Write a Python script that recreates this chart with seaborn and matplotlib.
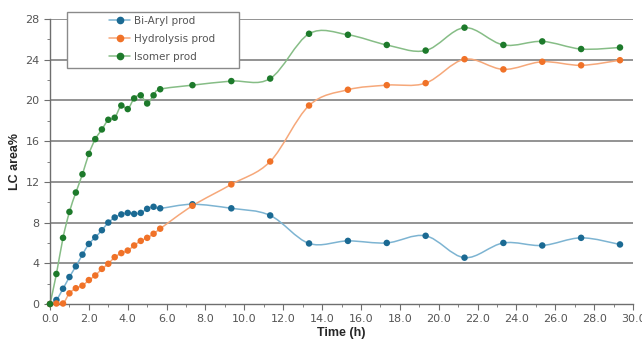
import numpy as np
import pandas as pd
import matplotlib
matplotlib.use("Agg")
import matplotlib.pyplot as plt
import seaborn as sns
from matplotlib.path import Path
from matplotlib.patches import PathPatch, Rectangle
from matplotlib.lines import Line2D
from matplotlib.ticker import MultipleLocator

# time points (h)
time_h = [0, 0.33, 0.67, 1.0, 1.33, 1.67, 2.0, 2.33, 2.67, 3.0, 3.33, 3.67, 4.0,
          4.33, 4.67, 5.0, 5.33, 5.67, 7.33, 9.33, 11.33, 13.33, 15.33, 17.33,
          19.33, 21.33, 23.33, 25.33, 27.33, 29.33]

biaryl = [0, 0.4, 1.5, 2.65, 3.7, 4.85, 5.9, 6.55, 7.25, 8.0, 8.5, 8.8, 8.95,
          8.85, 8.95, 9.35, 9.55, 9.4, 9.8, 9.4, 8.7, 5.95, 6.2, 6.0,
          6.7, 4.55, 6.0, 5.75, 6.5, 5.85]

hydrolysis = [0, 0.05, 0.05, 1.05, 1.55, 1.8, 2.35, 2.8, 3.45, 3.95, 4.6, 5.0, 5.25,
              5.75, 6.2, 6.5, 6.9, 7.4, 9.65, 11.75, 14.0, 19.5, 21.05, 21.5,
              21.7, 24.05, 23.05, 23.8, 23.45, 23.95]

isomer = [0, 2.95, 6.5, 9.05, 10.95, 12.75, 14.75, 16.2, 17.15, 18.1, 18.3, 19.5, 19.15,
          20.2, 20.5, 19.7, 20.5, 21.1, 21.5, 21.9, 22.15, 26.55, 26.45, 25.45,
          24.9, 27.15, 25.45, 25.8, 25.05, 25.2]

series_names = ["Bi-Aryl prod", "Hydrolysis prod", "Isomer prod"]
marker_colors = ["#1b6a93", "#f07228", "#1d7a2b"]
line_colors = ["#7db4d2", "#f6a87a", "#86bd86"]

df = pd.DataFrame({"time": time_h * 3,
                   "value": biaryl + hydrolysis + isomer,
                   "series": np.repeat(series_names, len(time_h))})


def smooth_path(xs, ys):
    # Excel-like smoothed line: cubic Bezier through the points
    pts = np.column_stack([xs, ys]).astype(float)
    verts = [pts[0]]
    codes = [Path.MOVETO]
    n = len(pts)
    for i in range(n - 1):
        p0 = pts[max(i - 1, 0)]
        p1 = pts[i]
        p2 = pts[i + 1]
        p3 = pts[min(i + 2, n - 1)]
        c1 = p1 + (p2 - p0) / 6.0
        c2 = p2 - (p3 - p1) / 6.0
        verts += [c1, c2, p2]
        codes += [Path.CURVE4] * 3
    return Path(verts, codes)


sns.set_style("white")
plt.rcParams['font.family'] = ['DejaVu Sans']

W, H = 642, 340
fig = plt.figure(figsize=(W / 100, H / 100), dpi=100)
ax = fig.add_axes([50 / W, 1 - 304 / H, 583 / W, 285 / H])

# gridlines
for yv in range(4, 29, 4):
    ax.axhline(yv, color="#8a8a8a", lw=1.3, zorder=0)

for name, lc in zip(series_names, line_colors):
    sub = df[df["series"] == name]
    ax.add_patch(PathPatch(smooth_path(sub["time"], sub["value"]),
                           facecolor="none", edgecolor=lc, lw=1.1, zorder=2))

sns.scatterplot(data=df, x="time", y="value", hue="series",
                palette=dict(zip(series_names, marker_colors)),
                s=22, linewidth=0, legend=False, ax=ax, zorder=3, clip_on=False)

ax.set_xlim(0, 30)
ax.set_ylim(0, 28)
ax.xaxis.set_major_locator(MultipleLocator(2))
ax.xaxis.set_minor_locator(MultipleLocator(1))
ax.yaxis.set_major_locator(MultipleLocator(4))
ax.yaxis.set_minor_locator(MultipleLocator(2))
ax.set_xticks(np.arange(0, 31, 2))
ax.set_xticklabels([f"{v:.1f}" for v in np.arange(0, 31, 2)])

for s in ["top", "right"]:
    ax.spines[s].set_visible(False)
for s in ["left", "bottom"]:
    ax.spines[s].set_color("#6e6e6e")
    ax.spines[s].set_linewidth(1.0)

ax.tick_params(axis="both", which="major", direction="out", length=4,
               color="#6e6e6e", labelsize=8, labelcolor="#555555", bottom=True, left=True)
ax.tick_params(axis="both", which="minor", direction="out", length=2.5,
               color="#6e6e6e", bottom=True, left=True)

ax.set_xlabel("Time (h)", fontsize=9, fontweight="bold",
              family=["Liberation Sans"], labelpad=2)
ax.set_ylabel("LC area%", fontsize=9, fontweight="bold",
              family=["Liberation Sans"], labelpad=3)

# legend box
fig.patches.append(Rectangle((67 / W, 1 - 68 / H), 172 / W, 56 / H,
                             transform=fig.transFigure, facecolor="white",
                             edgecolor="#8a8a8a", lw=1.0, zorder=5))
handles = [Line2D([0], [0], color=lc, lw=1.1, marker="o", markersize=4.5,
                  markerfacecolor=mc, markeredgecolor=mc)
           for lc, mc in zip(line_colors, marker_colors)]
leg = fig.legend(handles, series_names, loc="upper left",
                 bbox_to_anchor=(106 / W, 1 - 13 / H), frameon=False,
                 fontsize=7.5, handlelength=2.0, handletextpad=0.4,
                 borderpad=0.3, labelspacing=0.75, borderaxespad=0)
leg.set_zorder(6)
for t in leg.get_texts():
    t.set_color("#555555")

fig.savefig("out.png", dpi=100)
